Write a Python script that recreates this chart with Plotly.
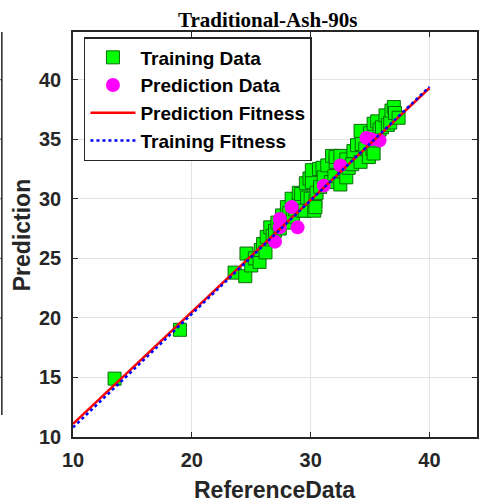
import plotly.graph_objects as go

# Training set: reference value vs. model prediction
train_ref = [13.5, 19.0, 23.6, 24.5, 24.6, 25.0, 25.3, 25.7, 25.8, 26.0, 26.2, 26.3, 26.6, 26.8,
             27.0, 27.2, 27.4, 27.6, 27.9, 28.0, 28.2, 28.4, 28.5, 28.7, 29.0, 29.0, 29.2, 29.3,
             29.5, 29.6, 29.7, 29.9, 30.0, 30.1, 30.1, 30.3, 30.4, 30.4, 30.5, 30.7, 30.8, 31.0,
             31.1, 31.4, 31.7, 31.8, 32.0, 32.1, 32.1, 32.5, 32.5, 32.8, 33.0, 33.0, 33.2, 33.5,
             33.6, 33.9, 34.2, 34.3, 34.2, 34.6, 34.9, 35.0, 35.2, 35.3, 35.3, 35.6, 35.8, 36.0,
             36.3, 36.5, 36.7, 36.8, 37.0, 37.1, 37.4]
train_pred = [14.9, 19.0, 23.8, 23.5, 25.4, 24.4, 25.0, 24.7, 25.7, 26.2, 25.5, 26.8, 27.6, 26.9,
              27.3, 28.0, 27.5, 28.6, 28.0, 29.3, 28.8, 30.0, 28.5, 29.1, 29.6, 30.5, 30.4, 29.0,
              29.0, 31.3, 30.1, 31.7, 30.0, 31.4, 32.4, 29.0, 29.8, 29.3, 30.5, 32.5, 31.0, 32.6,
              31.8, 32.8, 31.4, 33.6, 31.9, 33.1, 33.5, 31.2, 33.6, 32.3, 33.3, 31.8, 32.6, 32.9,
              34.0, 34.5, 33.1, 34.6, 35.7, 34.2, 33.5, 35.5, 34.2, 36.3, 33.8, 36.5, 35.8, 36.0,
              37.0, 36.2, 36.4, 37.4, 37.7, 37.2, 36.8]

# Test set: reference value vs. model prediction
test_ref = [27.0, 27.4, 27.4, 28.4, 28.9, 31.1, 32.5, 34.7, 35.1, 35.8]
test_pred = [26.4, 28.3, 27.6, 29.3, 27.6, 31.1, 32.8, 35.1, 35.0, 34.9]

# Fitted regression lines (end points)
fit_x = [10, 40]
pred_fit_y = [11.1, 39.3]
train_fit_y = [10.8, 39.4]

tick_vals_x = [10, 20, 30, 40]
tick_vals_y = [10, 15, 20, 25, 30, 35, 40]

W, H = 481, 504
L, R, T, B = 73, 2, 32, 67
PW, PH = W - L - R, H - T - B

AX = "#262626"
FONT = "Liberation Sans"

fig = go.Figure()
fig.add_trace(go.Scatter(
    x=train_ref, y=train_pred, mode="markers", name="Training Data",
    marker=dict(symbol="square", size=13, color="#00ff00",
                line=dict(color="#0a6b0a", width=1)),
))
fig.add_trace(go.Scatter(
    x=test_ref, y=test_pred, mode="markers", name="Prediction Data",
    marker=dict(symbol="circle", size=14, color="#ff00ff", line=dict(width=0)),
))
fig.add_trace(go.Scatter(
    x=fit_x, y=pred_fit_y, mode="lines", name="Prediction Fitness",
    line=dict(color="#ff0000", width=2.5),
))
fig.add_trace(go.Scatter(
    x=fit_x, y=train_fit_y, mode="lines", name="Training Fitness",
    line=dict(color="#0000ff", width=2.5, dash="dot"),
))

axis_common = dict(
    showline=True, linecolor=AX, linewidth=1.5, mirror="ticks",
    ticks="inside", ticklen=5, tickwidth=1.2, tickcolor=AX,
    showgrid=True, gridcolor="#e3e3e3", gridwidth=1,
    zeroline=False,
    tickfont=dict(family=FONT, size=20, color=AX, weight="bold"),
)

fig.update_layout(
    width=W, height=H,
    margin=dict(l=L, r=R, t=T, b=B),
    paper_bgcolor="white", plot_bgcolor="white",
    showlegend=True,
    legend=dict(
        x=(84 - L) / PW, y=1 - (37 - T) / PH, xanchor="left", yanchor="top",
        bgcolor="white", bordercolor=AX, borderwidth=1.5,
        font=dict(family=FONT, size=19, color="black", weight="bold"),
        itemwidth=45, tracegroupgap=0,
    ),
    xaxis=dict(range=[10, 44], tickvals=tick_vals_x, ticklabelstandoff=4, **axis_common),
    yaxis=dict(range=[10, 44], tickvals=tick_vals_y, ticklabelstandoff=6, **axis_common),
)

# Title and axis labels
fig.add_annotation(
    text="Traditional-Ash-90s", xref="paper", yref="paper",
    x=(268 - L) / PW, y=1 + (T - 20) / PH, xanchor="center", yanchor="middle",
    showarrow=False, font=dict(family="Liberation Serif", size=21, color="black", weight="bold"),
)
fig.add_annotation(
    text="ReferenceData", xref="paper", yref="paper",
    x=(275 - L) / PW, y=-(490 - T - PH) / PH, xanchor="center", yanchor="middle",
    showarrow=False, font=dict(family=FONT, size=23, color=AX, weight="bold"),
)
fig.add_annotation(
    text="Prediction", xref="paper", yref="paper", textangle=-90,
    x=-(L - 22) / PW, y=1 - (235 - T) / PH, xanchor="center", yanchor="middle",
    showarrow=False, font=dict(family=FONT, size=23, color=AX, weight="bold"),
)

# Edge of the neighbouring panel on the left
edge_x = -(L - 1.5) / PW
fig.add_shape(type="line", xref="paper", yref="paper",
              x0=edge_x, x1=edge_x, y0=1 - (415 - T) / PH, y1=1.0,
              line=dict(color=AX, width=1.5))
for v in tick_vals_y[1:]:
    fig.add_shape(type="line", xref="paper", yref="y",
                  x0=-L / PW, x1=edge_x, y0=v, y1=v,
                  line=dict(color=AX, width=1.2))

fig.write_html("out.html")
